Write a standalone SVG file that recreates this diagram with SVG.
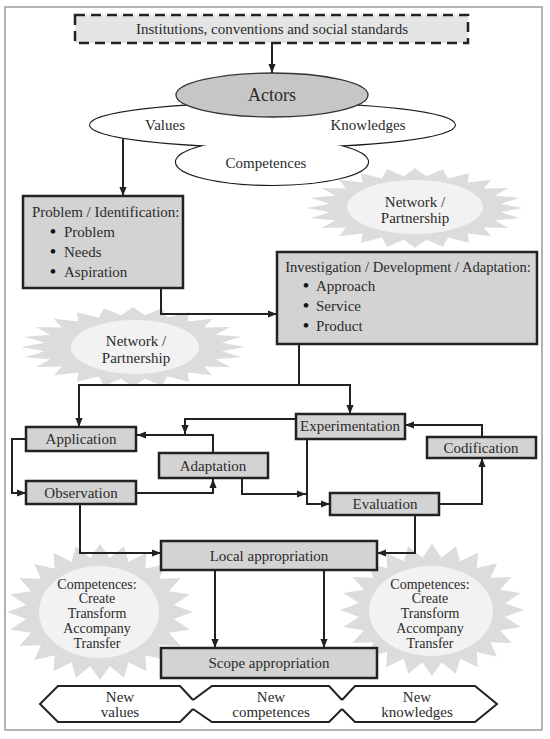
<svg xmlns="http://www.w3.org/2000/svg" xmlns:xlink="http://www.w3.org/1999/xlink" width="550" height="739" viewBox="0 0 550 739">
<style>
.t{font-family:"Liberation Serif","Times New Roman",serif;font-size:15px;fill:#2b2b2b}
.c{text-anchor:middle}
.s14{font-size:14px}
.b{font-size:17px;font-weight:bold;fill:#111}
.box{fill:#d3d3d3;stroke:#222;stroke-width:2.5}
.conn{fill:none;stroke:#222;stroke-width:2}
.core{fill:#f2f2f2}
.hex{fill:none;stroke:#222;stroke-width:2;stroke-linejoin:miter}
</style>
<defs>
<marker id="ah" viewBox="0 0 10 10" refX="10" refY="5" markerWidth="9" markerHeight="9" markerUnits="userSpaceOnUse" orient="auto"><path d="M0,1 L10,5 L0,9 z" fill="#222"/></marker>
<polygon id="star" fill="#dcdcdc" points="1,0 .7932,.1044 .9659,.2588 .7391,.3061 .866,.5 .6347,.487 .7071,.7071 .487,.6347 .5,.866 .3061,.7391 .2588,.9659 .1044,.7932 0,1 -.1044,.7932 -.2588,.9659 -.3061,.7391 -.5,.866 -.487,.6347 -.7071,.7071 -.6347,.487 -.866,.5 -.7391,.3061 -.9659,.2588 -.7932,.1044 -1,0 -.7932,-.1044 -.9659,-.2588 -.7391,-.3061 -.866,-.5 -.6347,-.487 -.7071,-.7071 -.487,-.6347 -.5,-.866 -.3061,-.7391 -.2588,-.9659 -.1044,-.7932 0,-1 .1044,-.7932 .2588,-.9659 .3061,-.7391 .5,-.866 .487,-.6347 .7071,-.7071 .6347,-.487 .866,-.5 .7391,-.3061 .9659,-.2588 .7932,-.1044"/>
</defs>
<rect x="5" y="7" width="537" height="723" fill="#fff" stroke="#9a9a9a" stroke-width="1.5"/>

<g id="network-top">
<use href="#star" xlink:href="#star" transform="translate(415 208) scale(108 40)"/>
<ellipse class="core" cx="415" cy="207" rx="68" ry="27"/>
<text class="t c" x="415" y="207">Network /</text>
<text class="t c" x="415" y="223">Partnership</text>
</g>
<g id="network-left">
<use href="#star" xlink:href="#star" transform="translate(133 347) scale(112 40)"/>
<ellipse class="core" cx="135" cy="347" rx="64" ry="27"/>
<text class="t c" x="136" y="346">Network /</text>
<text class="t c" x="136" y="363">Partnership</text>
</g>
<g id="competences-left">
<use href="#star" xlink:href="#star" transform="translate(100 612) scale(93 68)"/>
<ellipse class="core" cx="99" cy="612" rx="60" ry="46"/>
<text class="t c s14" x="97" y="589">Competences:</text>
<text class="t c s14" x="97" y="603">Create</text>
<text class="t c s14" x="97" y="618">Transform</text>
<text class="t c s14" x="97" y="633">Accompany</text>
<text class="t c s14" x="97" y="648">Transfer</text>
</g>
<g id="competences-right">
<use href="#star" xlink:href="#star" transform="translate(432 610) scale(92 66)"/>
<ellipse class="core" cx="431" cy="611" rx="62" ry="45"/>
<text class="t c s14" x="430" y="589">Competences:</text>
<text class="t c s14" x="430" y="603">Create</text>
<text class="t c s14" x="430" y="618">Transform</text>
<text class="t c s14" x="430" y="633">Accompany</text>
<text class="t c s14" x="430" y="648">Transfer</text>
</g>

<g id="institutions">
<rect x="75" y="15" width="393" height="28" fill="#e4e4e4" stroke="#222" stroke-width="2.5" stroke-dasharray="10,6"/>
<text class="t c" x="272" y="34">Institutions, conventions and social standards</text>
</g>

<g id="cloud">
<ellipse cx="272.5" cy="125" rx="182.5" ry="22" fill="#fff" stroke="#1a1a1a" stroke-width="2.2"/>
<ellipse cx="272" cy="162" rx="96" ry="23" fill="#fff" stroke="#1a1a1a" stroke-width="2.2"/>
<ellipse cx="272.5" cy="125" rx="182.5" ry="22" fill="#fff"/>
<ellipse cx="272" cy="162" rx="96" ry="23" fill="#fff"/>
<text class="t c" x="165" y="130">Values</text>
<text class="t c" x="368" y="130">Knowledges</text>
<text class="t c" x="266" y="168">Competences</text>
</g>
<g id="actors">
<ellipse cx="272" cy="95" rx="96" ry="22" fill="#c6c6c6" stroke="#333" stroke-width="1.3"/>
<text class="t c" x="272" y="101" style="font-size:18px">Actors</text>
</g>

<g id="connectors">
<path class="conn" d="M272,43 V73" marker-end="url(#ah)"/>
<path class="conn" d="M123,139 V196" marker-end="url(#ah)"/>
<path class="conn" d="M161,288 V314 H277" marker-end="url(#ah)"/>
<path class="conn" d="M299,344 V385 H79 V427" marker-end="url(#ah)"/>
<path class="conn" d="M299,385 H350 V414" marker-end="url(#ah)"/>
<path class="conn" d="M26,439 H12 V493 H26" marker-end="url(#ah)"/>
<path class="conn" d="M213,453 V435 H137" marker-end="url(#ah)"/>
<path class="conn" d="M296,419 H185 V434" marker-end="url(#ah)"/>
<path class="conn" d="M136,493 H213 V479" marker-end="url(#ah)"/>
<path class="conn" d="M242,478 V494 H306" marker-end="url(#ah)"/>
<path class="conn" d="M307,439 V504 H330" marker-end="url(#ah)"/>
<path class="conn" d="M439,504 H482 V458" marker-end="url(#ah)"/>
<path class="conn" d="M482,437 V425 H405" marker-end="url(#ah)"/>
<path class="conn" d="M80,504 V553 H161" marker-end="url(#ah)"/>
<path class="conn" d="M415,515 V553 H377" marker-end="url(#ah)"/>
<path class="conn" d="M215,570 V648" marker-end="url(#ah)"/>
<path class="conn" d="M324,570 V648" marker-end="url(#ah)"/>
</g>

<g id="problem">
<rect class="box" x="23" y="196" width="160" height="92"/>
<text class="t" x="32" y="217">Problem / Identification:</text>
<text class="t" y="237"><tspan class="b" x="50">•</tspan><tspan x="64">Problem</tspan></text>
<text class="t" y="257"><tspan class="b" x="50">•</tspan><tspan x="64">Needs</tspan></text>
<text class="t" y="277"><tspan class="b" x="50">•</tspan><tspan x="64">Aspiration</tspan></text>
</g>
<g id="investigation">
<rect class="box" x="277" y="252" width="260" height="92"/>
<text class="t c" x="408" y="272" style="font-size:14.6px">Investigation / Development / Adaptation:</text>
<text class="t" y="291"><tspan class="b" x="303">•</tspan><tspan x="316">Approach</tspan></text>
<text class="t" y="311"><tspan class="b" x="303">•</tspan><tspan x="316">Service</tspan></text>
<text class="t" y="331"><tspan class="b" x="303">•</tspan><tspan x="316">Product</tspan></text>
</g>
<g id="application">
<rect class="box" x="26" y="427" width="110" height="24"/>
<text class="t c" x="81" y="444">Application</text>
</g>
<g id="observation">
<rect class="box" x="26" y="481" width="110" height="23"/>
<text class="t c" x="81" y="498">Observation</text>
</g>
<g id="adaptation">
<rect class="box" x="159" y="453" width="109" height="25"/>
<text class="t c" x="213" y="471">Adaptation</text>
</g>
<g id="experimentation">
<rect class="box" x="296" y="414" width="109" height="25"/>
<text class="t c" x="350" y="431">Experimentation</text>
</g>
<g id="codification">
<rect class="box" x="427" y="437" width="109" height="21"/>
<text class="t c" x="481" y="453">Codification</text>
</g>
<g id="evaluation">
<rect class="box" x="330" y="493" width="109" height="22"/>
<text class="t c" x="385" y="509">Evaluation</text>
</g>
<g id="local-appropriation">
<rect class="box" x="161" y="541" width="216" height="29"/>
<text class="t c" x="269" y="561">Local appropriation</text>
</g>
<g id="scope-appropriation">
<rect class="box" x="161" y="648" width="216" height="30"/>
<text class="t c" x="269" y="668">Scope appropriation</text>
</g>

<g id="new-values">
<polyline class="hex" points="193,700 180,686 58,686 40,704 58,722 180,722 193,709"/>
<text class="t c" x="120" y="702">New</text>
<text class="t c" x="120" y="717">values</text>
</g>
<g id="new-competences">
<polyline class="hex" points="193,700 212,686 329,686 342,700"/>
<polyline class="hex" points="193,709 212,722 329,722 342,709"/>
<text class="t c" x="271" y="702">New</text>
<text class="t c" x="271" y="717">competences</text>
</g>
<g id="new-knowledges">
<polyline class="hex" points="342,700 355,686 475,686 497,704 475,722 355,722 342,709"/>
<text class="t c" x="417" y="702">New</text>
<text class="t c" x="417" y="717">knowledges</text>
</g>
</svg>
